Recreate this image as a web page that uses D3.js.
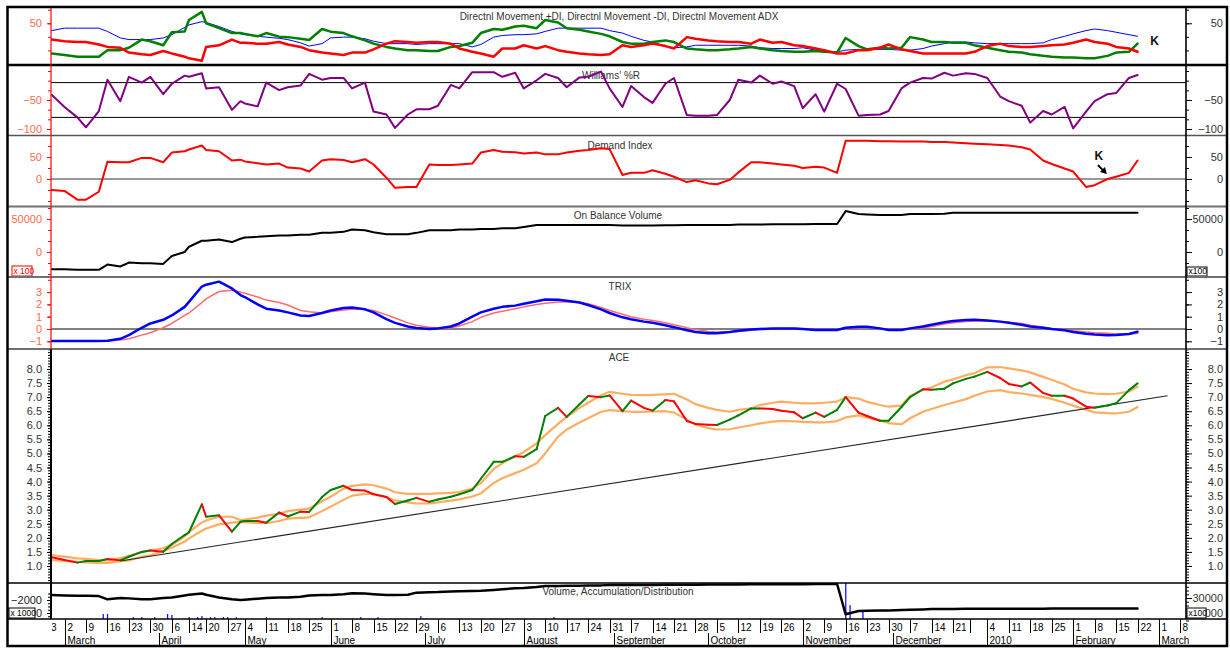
<!DOCTYPE html>
<html><head><meta charset="utf-8">
<script src="https://cdn.jsdelivr.net/npm/d3@7"></script>
<style>body{margin:0;background:#fff}svg text{font-family:Arial,"Liberation Sans",sans-serif}</style>
</head><body><svg id="c" width="1230" height="648"></svg>
<script>
// ---------------- DATA ----------------
const sampleDates = ["2009-02-25","2009-03-02","2009-03-05","2009-03-09","2009-03-12","2009-03-16","2009-03-19","2009-03-23","2009-03-26","2009-03-30",
"2009-04-02","2009-04-06","2009-04-09","2009-04-14","2009-04-17","2009-04-20","2009-04-23","2009-04-28","2009-04-30","2009-05-04",
"2009-05-07","2009-05-11","2009-05-14","2009-05-18","2009-05-21","2009-05-25","2009-05-28","2009-06-01","2009-06-04","2009-06-08",
"2009-06-11","2009-06-15","2009-06-18","2009-06-22","2009-06-25","2009-06-29","2009-07-02","2009-07-06","2009-07-09","2009-07-13",
"2009-07-16","2009-07-20","2009-07-23","2009-07-27","2009-07-30","2009-08-03","2009-08-06","2009-08-10","2009-08-13","2009-08-17",
"2009-08-20","2009-08-24","2009-08-27","2009-08-31","2009-09-03","2009-09-07","2009-09-10","2009-09-14","2009-09-17","2009-09-21",
"2009-09-24","2009-09-28","2009-10-01","2009-10-05","2009-10-08","2009-10-12","2009-10-15","2009-10-19","2009-10-22","2009-10-26",
"2009-10-29","2009-11-02","2009-11-05","2009-11-09","2009-11-12","2009-11-16","2009-11-19","2009-11-23","2009-11-26","2009-11-30",
"2009-12-03","2009-12-07","2009-12-10","2009-12-14","2009-12-17","2009-12-21","2009-12-24","2009-12-29","2010-01-04","2010-01-07",
"2010-01-11","2010-01-14","2010-01-18","2010-01-21","2010-01-25","2010-01-28","2010-02-01","2010-02-04","2010-02-08","2010-02-11",
"2010-02-15","2010-02-18","2010-02-22"];

const plusDI = [13,11,9,9,9,17,17,20,30,28, 23,39,40,54,64,50,44,38,38,37, 34,38,33.6,33,31,29.5,43,39.7,38,34,
 29,25,21,19,17,17,16,16,21,22, 26,38,43,42,46,47,44,54,51,44, 42,40,37,34,27,25,25,27,29,27,
 19,18,17,17,18,19,21,19,17,16, 15,15,16,15,14,32,22,18,20,19, 20,33,30,27,27,26,26,23,20,17,
 15,14,12,10,9,8,8,7,7,10, 14,15,25];
const minusDI = [30,28,27,27,24,21,20,14,12,11, 16,13,9,7,4,21,23,30,26,26, 25,25,27,24,21,17,14,13,11,14,
 14,18,25,28,27,26,27,27,25,19, 15,13,9,19,19,23,19,22,17,15, 13,12,11,12,23,21,23,25,22,19,
 33,31,29,28,27,27,25,30,26,27, 23,22,19,17,13,13,17,17,20,24, 18,16,13,13,13,13,13,15,22,25,
 22,21,21,22,23,24,26,30,27,25, 21,19,15];
const adx = [41,44,44,44,44,40,32,30,30,30, 32,36,45,48,52,51,46,40,37,36, 34,33,31.6,30,26,22,25,32,33,33,
 31,28,25,25,25,24,25,25,25,25, 21,24,33,35,36,36,37,40,44,44, 44,44,44,41,38,34,29,27,22,20,
 21,23,23,23,23,23,22,20,19,19, 19,20,17,15,15,17,18,18,18,18, 17,17,19,22,25,27,27,26,25,25,
 25,25,25,26,30,34,37,41,43,41, 39,36,34];
const williamsR = [-41,-62,-80,-97,-69,-15,-52,-10,-20,-10, -40,-22,-8,-10,-4,-30,-28,-67,-52,-56,
 -61,-20,-33,-28,-25,-5,-15,-12,-12,-30, -20,-70,-75,-98,-75,-66,-66,-60,-24,-30,
 -2,-2,-2,-10,-3,-30,-16,-5,-12,-28, -11,-10,-1,-30,-62,-26,-45,-55,-22,-12,
 -76,-77,-77,-76,-50,-15,-20,-8,-22,-18, -26,-64,-40,-70,-22,-31,-77,-76,-75,-69,
 -30,-20,-12,-13,-3,-8,-4,-5,-12,-44, -52,-60,-89,-69,-75,-62,-99,-70,-52,-40, -38,-12,-7];
const demandIndex = [-25,-27,-47,-47,-29,39,38,38,48,48, 38,60,63,67,76,66,63,42,44,40,
 36,33,35,26,24,17,42,45,43,38, 45,33,3,-20,-18,-18,33,32,32,33, 35,60,66,62,61,58,60,56,56,60,
 64,66,70,68,9,14,14,20,12,5, -7,-3,-10,-12,-2,15,38,38,35,33, 30,25,28,26,14,87,87,87,86,86,
 85,85,85,84,84,83,81,80,79,77, 76,72,67,42,34,24,17,-18,-14,0, 5,14,42];
const onBalanceVolume = [-26000,-26000,-27000,-27000,-27000,-19000,-22000,-16000,-17000,-17000,
 -18000,-6000,0,8000,17000,17000,19000,15000,20000,22000, 23000,24000,25000,25000,26000,26000,29000,29000,30500,34000,
 33000,30000,27000,27000,27000,29000,33000,33000,33000,34000, 34000,35000,35000,36000,36000,38000,41000,41000,41000,41000,
 41000,41000,41000,41000,40000,40000,40000,40000,40500,40500, 41000,41000,41000,41000,41000,41500,41500,41500,42000,42000,
 42000,42000,42400,42400,42400,62000,57500,57000,56000,56000, 56000,57500,57500,57500,58000,59500,59500,59500,59500,59500,
 59500,59500,59500,59500,59500,59500,59500,59500,59500,59500, 59500,59500,59500];
const trix = [-0.98,-0.98,-0.98,-0.98,-0.98,-0.95,-0.8,-0.5,0.1,0.45, 0.75,1.1,1.8,2.2,3.45,3.6,3.85,3.3,2.76,2.6,
 2.0,1.65,1.5,1.35,1.1,1.05,1.3,1.5,1.7,1.75, 1.6,1.35,0.8,0.5,0.2,0.08,0,0.05,0.2,0.45,
 1.0,1.35,1.65,1.8,1.9,2.05,2.25,2.4,2.38,2.3, 2.15,1.95,1.6,1.3,0.95,0.8,0.6,0.5,0.3,0.15,
 -0.1,-0.25,-0.35,-0.35,-0.25,-0.15,-0.05,0,0.05,0.05, 0.05,0,-0.08,-0.08,-0.08,0.1,0.19,0.19,0.05,-0.08,
 -0.08,0.05,0.2,0.35,0.55,0.65,0.73,0.75,0.7,0.6, 0.5,0.35,0.2,0.1,0,-0.1,-0.25,-0.38,-0.45,-0.5, -0.48,-0.4,-0.22];
const trixSignal = [-1,-1,-1,-1,-1,-0.98,-0.9,-0.8,-0.5,-0.3, 0.1,0.45,1.1,1.3,2.15,2.45,3.05,3.15,3.0,2.9,
 2.6,2.35,2.15,1.95,1.5,1.4,1.3,1.4,1.55,1.6, 1.6,1.5,1.15,0.9,0.5,0.3,0.15,0.1,0.1,0.25,
 0.6,0.95,1.3,1.45,1.65,1.8,2.0,2.1,2.2,2.2, 2.15,2.05,1.75,1.5,1.2,1.0,0.8,0.7,0.5,0.35,
 0.1,-0.05,-0.2,-0.25,-0.25,-0.2,-0.1,-0.05,0,0.05, 0.05,0.03,-0.03,-0.05,-0.05,0.05,0.12,0.15,0.05,-0.03,
 -0.05,0,0.1,0.2,0.4,0.5,0.6,0.65,0.68,0.6, 0.55,0.45,0.3,0.15,0.05,-0.05,-0.15,-0.25,-0.3,-0.35, -0.4,-0.4,-0.35];
const acePrice = [1.31,1.21,1.12,1.18,1.18,1.25,1.2,1.33,1.5,1.55, 1.51,1.78,2.1,2.2,3.19,2.75,2.8,2.22,2.57,2.6,
 2.6,2.54,2.9,2.76,2.93,2.92,3.45,3.7,3.85,3.7, 3.68,3.55,3.45,3.2,3.33,3.42,3.28,3.36,3.46,3.55,
 3.7,4.1,4.7,4.7,4.9,4.88,5.15,6.33,6.62,6.3, 6.75,7.04,7.0,7.06,6.5,6.88,6.62,6.52,6.9,6.85,
 6.15,6.05,6.02,6.01,6.2,6.35,6.6,6.6,6.58,6.52, 6.46,6.25,6.45,6.3,6.55,7.0,6.45,6.33,6.16,6.16,
 6.65,7.0,7.28,7.26,7.3,7.49,7.65,7.73,7.9,7.68, 7.47,7.38,7.52,7.15,7.05,7.05,6.95,6.66,6.62,6.7, 6.78,7.25,7.49];
const aceUpper = [1.39,1.33,1.27,1.25,1.21,1.2,1.28,1.36,1.5,1.56, 1.63,1.75,2.05,2.2,2.55,2.62,2.75,2.75,2.63,2.65,
 2.72,2.79,2.85,2.95,3.0,3.04,3.3,3.46,3.75,3.85, 3.9,3.87,3.75,3.62,3.56,3.56,3.56,3.58,3.6,3.63,
 3.75,3.95,4.45,4.65,4.9,5.05,5.36,5.65,6.05,6.3, 6.62,6.8,7.07,7.19,7.12,7.08,7.07,7.08,7.1,7.12,
 6.92,6.75,6.62,6.55,6.48,6.55,6.6,6.72,6.8,6.84, 6.8,6.78,6.78,6.8,6.84,7.0,6.95,6.83,6.72,6.66,
 6.7,7.04,7.25,7.35,7.55,7.63,7.78,7.85,8.06,8.07, 8.02,7.95,7.88,7.72,7.62,7.45,7.3,7.17,7.13,7.11, 7.12,7.2,7.37];
const aceLower = [1.21,1.18,1.15,1.13,1.11,1.11,1.17,1.2,1.33,1.38, 1.53,1.65,1.87,1.98,2.25,2.33,2.48,2.54,2.57,2.56,
 2.53,2.52,2.6,2.68,2.71,2.73,2.95,3.11,3.35,3.5, 3.56,3.56,3.45,3.33,3.26,3.22,3.22,3.26,3.32,3.37,
 3.47,3.58,3.95,4.12,4.3,4.42,4.65,5.0,5.6,5.85, 6.1,6.25,6.48,6.54,6.5,6.48,6.48,6.49,6.5,6.45,
 6.2,6.02,5.9,5.85,5.86,5.92,6.0,6.07,6.13,6.16, 6.14,6.12,6.1,6.1,6.15,6.28,6.35,6.27,6.16,6.08,
 6.03,6.25,6.48,6.58,6.72,6.8,6.93,7.05,7.2,7.25, 7.18,7.13,7.08,7.0,6.94,6.8,6.7,6.55,6.46,6.43, 6.42,6.48,6.65];
const trendDates = ["2009-03-19","2010-03-03"];
const trendValues = [1.18,7.05];
const accumDist = [-1230,-1300,-1350,-1350,-1400,-1900,-1700,-1750,-1900,-1900, -1700,-1600,-1300,-1200,-1000,-1200,-1600,-1900,-2000,-1950,
 -1800,-1700,-1600,-1600,-1500,-1300,-1230,-1230,-1100,-970, -1000,-1100,-1230,-1230,-1200,-870,-800,-780,-700,-650,
 -600,-560,-450,-350,-200,-150,0,150,150,200, 200,250,250,300,300,300,320,320,340,340,
 360,360,380,380,400,400,420,420,430,430, 440,440,450,450,460,-4200,-3700,-3650,-3600,-3600,
 -3550,-3500,-3450,-3400,-3400,-3400,-3350,-3350,-3350,-3350, -3350,-3350,-3330,-3330,-3320,-3300,-3300,-3300,-3300,-3300, -3300,-3300,-3300];
const volumeDates = ["2009-03-13","2009-03-16","2009-03-24","2009-03-26","2009-03-31","2009-04-03","2009-04-06","2009-04-14","2009-04-16","2009-04-17",
 "2009-04-21","2009-04-22","2009-04-24","2009-04-27","2009-04-29","2009-05-11","2009-05-28","2009-06-10","2009-06-16","2009-06-30",
 "2009-08-12","2009-11-16","2009-11-17","2009-11-20"];
const volumeValues = [19300,19300,17300,17300,17300,19300,18700,17300,17300,18000, 17300,17300,17300,17300,17300,17300,17300,17300,17300,18000, 17300,40000,25300,20700];
const holidays = ["2009-04-10","2009-04-13","2009-05-01","2009-12-25","2010-01-01"];
const monthLabels = ["March","April","May","June","July","August","September","October","November","December","2010","February","March"];
const hiddenWeekLabels = ["2009-12-28"];
const titles = ["Directnl Movement +DI, Directnl Movement -DI, Directnl Movement ADX","Williams' %R","Demand Index","On Balance Volume","TRIX","ACE","Volume, Accumulation/Distribution"];

// ---------------- SETUP ----------------
const svg = d3.select("#c");
const parse = d3.timeParse("%Y-%m-%d"), fmtD = d3.timeFormat("%Y-%m-%d");
const hol = new Set(holidays);
const calendar = [];
for (let d = parse("2009-02-16"); d <= parse("2010-03-12"); d = d3.timeDay.offset(d, 1)) {
  const wd = d.getDay(), s = fmtD(d);
  if (wd > 0 && wd < 6 && !hol.has(s)) calendar.push(s);
}
const idxOf = new Map(calendar.map((s, i) => [s, i]));
const L = 51, R = 1186;
const x = d3.scaleLinear().domain([idxOf.get("2009-03-02"), idxOf.get("2010-03-01")]).range([64.5, 1159]);
const X = s => x(idxOf.get(s));

const yDMI = d3.scaleLinear().domain([0, 70]).range([64, 7]);
const yWR = d3.scaleLinear().domain([-100, 0]).range([129, 71]);
const yDem = d3.scaleLinear().domain([-50, 50]).range([201, 157]);
const yOBV = d3.scaleLinear().domain([0, 50000]).range([252, 219]);
const yTrix = d3.scaleLinear().domain([-1, 3]).range([341.3, 292.1]);
const yACE = d3.scaleLinear().domain([1, 8]).range([566, 369]);
const yAD = d3.scaleLinear().domain([-4000, -2000]).range([613, 600]);
const yVol = d3.scaleLinear().domain([20000, 30000]).range([613, 598]);

const panelBounds = [[8, 64], [66, 135], [136, 206], [207, 277], [277, 349], [349, 583], [583, 619]];
const defs = svg.append("defs");
panelBounds.forEach((b, i) => {
  defs.append("clipPath").attr("id", "clip" + i).append("rect").attr("x", L).attr("y", b[0]).attr("width", R - L).attr("height", b[1] - b[0]);
});
defs.append("clipPath").attr("id", "clipAxis").append("rect").attr("x", L + 1).attr("y", 619).attr("width", R - L + 6).attr("height", 28);

svg.append("rect").attr("width", 1230).attr("height", 648).attr("fill", "#fff");

function series(values) { return values.map((v, i) => [sampleDates[i], v]); }
function drawLine(p, values, y, color, w) {
  svg.append("g").attr("clip-path", `url(#clip${p})`).append("path")
    .datum(series(values))
    .attr("d", d3.line().x(d => X(d[0])).y(d => y(d[1])))
    .attr("fill", "none").attr("stroke", color).attr("stroke-width", w)
    .attr("stroke-linejoin", "round").attr("stroke-linecap", "round");
}
function hRef(y, v, color, w) {
  svg.append("line").attr("x1", L).attr("x2", R).attr("y1", y(v)).attr("y2", y(v)).attr("stroke", color).attr("stroke-width", w);
}
function title(t, cx, by) {
  svg.append("text").attr("x", cx).attr("y", by).attr("text-anchor", "middle").attr("font-size", 10).attr("fill", "#333").text(t);
}
function styleAxis(g) { g.select(".domain").remove(); g.attr("font-size", 11).attr("font-family", "Arial, Liberation Sans, sans-serif"); }
function axes(y, labelVals, minorVals, fmt, lStroke, lFill) {
  const gm = svg.append("g").attr("transform", `translate(${L},0)`).call(d3.axisLeft(y).tickValues(minorVals).tickSize(3).tickFormat(""));
  const gl = svg.append("g").attr("transform", `translate(${L},0)`).call(d3.axisLeft(y).tickValues(labelVals).tickSize(4).tickPadding(5).tickFormat(fmt));
  const gm2 = svg.append("g").attr("transform", `translate(${R},0)`).call(d3.axisRight(y).tickValues(minorVals).tickSize(3).tickFormat(""));
  const gr = svg.append("g").attr("transform", `translate(${R},0)`).call(d3.axisRight(y).tickValues(labelVals).tickSize(6).tickFormat(fmt));
  [gm, gl, gm2, gr].forEach(styleAxis);
  [gm, gl].forEach(g => g.selectAll("line").attr("stroke", lStroke));
  gl.selectAll("text").attr("fill", lFill);
  [gm2, gr].forEach(g => g.selectAll("line").attr("stroke", "#000"));
  gr.selectAll("text").attr("fill", "#333").attr("text-anchor", "end").attr("x", 37);
}
function box(x0, y0, w, h, label, color) {
  svg.append("rect").attr("x", x0).attr("y", y0).attr("width", w).attr("height", h).attr("fill", "#fff").attr("stroke", color).attr("stroke-width", 1);
  svg.append("text").attr("x", x0 + 1.5).attr("y", y0 + h - 2).attr("font-size", 8.5).attr("fill", color).text(label);
}
const redAxis = "#ff0000", redText = "#ff6a4d";

// ---------------- PANEL 1: DMI ----------------
title(titles[0], 619, 20);
axes(yDMI, [50], d3.range(0, 71, 50 / 3), d3.format("d"), redAxis, redText);
drawLine(0, adx, yDMI, "#0000ff", 1);
drawLine(0, plusDI, yDMI, "#008000", 2.5);
drawLine(0, minusDI, yDMI, "#ff0000", 2.5);

// ---------------- PANEL 2: Williams %R ----------------
hRef(yWR, -20, "#000", 1);
hRef(yWR, -80, "#000", 1);
title(titles[1], 611, 79);
axes(yWR, [-50, -100], d3.range(-100, 1, 50 / 3), d3.format("d"), redAxis, redText);
drawLine(1, williamsR, yWR, "#800080", 2);

// ---------------- PANEL 3: Demand Index ----------------
hRef(yDem, 0, "#333", 1);
title(titles[2], 620, 149);
axes(yDem, [50, 0], d3.range(-50, 76, 25), d3.format("d"), redAxis, redText);
drawLine(2, demandIndex, yDem, "#ff0000", 2);

// ---------------- PANEL 4: OBV ----------------
title(titles[3], 618, 219);
axes(yOBV, [50000, 0], d3.range(-33334, 80000, 50000 / 3), d3.format("d"), redAxis, redText);
drawLine(3, onBalanceVolume, yOBV, "#000", 2);
box(12, 266, 20, 10, "x 100", "#ff0000");
box(1187, 267, 20, 9, "x100", "#000");

// ---------------- PANEL 5: TRIX ----------------
hRef(yTrix, 0, "#808080", 2);
title(titles[4], 620, 290);
axes(yTrix, [3, 2, 1, 0, -1], d3.range(-1, 4.1, 1), d3.format("d"), redAxis, redText);
drawLine(4, trixSignal, yTrix, "#ff6a6a", 1.5);
drawLine(4, trix, yTrix, "#0000ff", 2.5);

// ---------------- PANEL 6: ACE ----------------
title(titles[5], 619, 361);
axes(yACE, d3.range(1, 8.01, 0.5), d3.range(0.5, 8.71, 0.1), d3.format(".1f"), "#000", "#333");
drawLine(5, aceUpper, yACE, "#ffad60", 2.2);
drawLine(5, aceLower, yACE, "#ffad60", 2.2);
svg.append("g").attr("clip-path", "url(#clip5)").append("line")
  .attr("x1", X(trendDates[0])).attr("y1", yACE(trendValues[0]))
  .attr("x2", X(trendDates[1])).attr("y2", yACE(trendValues[1]))
  .attr("stroke", "#222").attr("stroke-width", 1.1);
const pg = svg.append("g").attr("clip-path", "url(#clip5)");
const ps = series(acePrice);
for (let i = 1; i < ps.length; i++) {
  pg.append("line").attr("x1", X(ps[i - 1][0])).attr("y1", yACE(ps[i - 1][1]))
    .attr("x2", X(ps[i][0])).attr("y2", yACE(ps[i][1]))
    .attr("stroke", ps[i][1] >= ps[i - 1][1] ? "#008000" : "#ff0000")
    .attr("stroke-width", 2).attr("stroke-linecap", "round");
}

// ---------------- PANEL 7: Volume, A/D ----------------
const vg = svg.append("g").attr("clip-path", "url(#clip6)");
vg.selectAll("rect").data(volumeDates.map((d, i) => [d, volumeValues[i]])).join("rect")
  .attr("x", d => X(d[0]) - 0.5).attr("width", 1.2)
  .attr("y", d => yVol(d[1])).attr("height", d => 619 - yVol(d[1])).attr("fill", "#0000ff");
title(titles[6], 618, 595);
drawLine(6, accumDist, yAD, "#000", 2.5);
(function () {
  const gl = svg.append("g").attr("transform", `translate(${L},0)`).call(d3.axisLeft(yAD).tickValues([-2000, -4000]).tickSize(4).tickPadding(5).tickFormat(d => d === -4000 ? "0" : d3.format("d")(d)));
  const gm = svg.append("g").attr("transform", `translate(${L},0)`).call(d3.axisLeft(yAD).tickValues(d3.range(-4500, -500, 500)).tickSize(3).tickFormat(""));
  const gr = svg.append("g").attr("transform", `translate(${R},0)`).call(d3.axisRight(yVol).tickValues([30000, 20000]).tickSize(6).tickFormat(d => d === 20000 ? "000" : d3.format("d")(d)));
  const gm2 = svg.append("g").attr("transform", `translate(${R},0)`).call(d3.axisRight(yVol).tickValues(d3.range(15000, 40000, 2500)).tickSize(3).tickFormat(""));
  [gl, gm, gr, gm2].forEach(g => { styleAxis(g); g.selectAll("line").attr("stroke", "#000"); });
  gl.selectAll("text").attr("fill", "#222");
  gr.selectAll("text").attr("fill", "#333").attr("text-anchor", "end").attr("x", 37);
})();
box(9, 608, 26, 10, "x 1000", "#000");
box(1187, 608, 19, 10, "x100", "#000");

// ---------------- annotations "K" ----------------
const kNotes = [{ date: "2010-02-26", value: 28, y: yDMI, arrow: false }, { date: "2010-02-09", value: 52, y: yDem, arrow: true }];
kNotes.forEach(k => {
  const kx = X(k.date), ky = k.y(k.value);
  svg.append("text").attr("x", kx).attr("y", ky + 4).attr("text-anchor", "middle")
    .attr("font-family", "Liberation Serif, Times New Roman, serif").attr("font-weight", "bold").attr("font-size", 12).attr("fill", "#111").text("K");
  if (k.arrow) {
    svg.append("line").attr("x1", kx - 1).attr("y1", ky + 9).attr("x2", kx + 5).attr("y2", ky + 15).attr("stroke", "#000").attr("stroke-width", 2);
    svg.append("path").attr("d", `M${kx + 8},${ky + 18} L${kx + 1},${ky + 16} L${kx + 6},${ky + 11} Z`).attr("fill", "#000");
  }
});

// ---------------- separators, axis lines, frame ----------------
const sep = [[65, "#000", 2.5], [135.5, "#555", 1.5], [206.5, "#707070", 2], [277, "#707070", 2], [349, "#707070", 2], [583, "#000", 1.5], [619, "#000", 1.5]];
sep.forEach(s => svg.append("line").attr("x1", 7).attr("x2", 1227).attr("y1", s[0]).attr("y2", s[0]).attr("stroke", s[1]).attr("stroke-width", s[2]));
svg.append("line").attr("x1", L).attr("x2", L).attr("y1", 7).attr("y2", 349).attr("stroke", "#ff0000").attr("stroke-width", 1.2);
svg.append("line").attr("x1", L).attr("x2", L).attr("y1", 349).attr("y2", 619).attr("stroke", "#000").attr("stroke-width", 2);
svg.append("line").attr("x1", R).attr("x2", R).attr("y1", 7).attr("y2", 619).attr("stroke", "#000").attr("stroke-width", 1.6);

// ---------------- date axis ----------------
const ax = svg.append("g").attr("clip-path", "url(#clipAxis)");
const weekStarts = calendar.filter((s, i) => i > 0 && +d3.timeMonday.floor(parse(s)) !== +d3.timeMonday.floor(parse(calendar[i - 1])));
const monthStarts = calendar.filter((s, i) => i > 0 && s.slice(0, 7) !== calendar[i - 1].slice(0, 7) && s >= "2009-03-01");
weekStarts.filter(s => X(s) < R).forEach(s => {
  const xx = Math.round(X(s)) + 0.5;
  ax.append("line").attr("x1", xx).attr("x2", xx).attr("y1", 619).attr("y2", 633).attr("stroke", "#000").attr("stroke-width", 1);
  if (!hiddenWeekLabels.includes(s))
    ax.append("text").attr("x", xx + 2).attr("y", 631).attr("font-size", 10).attr("fill", "#000").text(+s.slice(8, 10));
});
monthStarts.slice(0, monthLabels.length).forEach((s, i) => {
  const xx = Math.round(X(s)) + 0.5;
  ax.append("line").attr("x1", xx).attr("x2", xx).attr("y1", 633).attr("y2", 646).attr("stroke", "#000").attr("stroke-width", 1);
  ax.append("text").attr("x", xx + 2).attr("y", 644).attr("font-size", 10).attr("fill", "#000").text(monthLabels[i]);
});

svg.append("rect").attr("x", 7.5).attr("y", 7).attr("width", 1219.5).attr("height", 639).attr("fill", "none").attr("stroke", "#000").attr("stroke-width", 2.5);
</script></body></html>
